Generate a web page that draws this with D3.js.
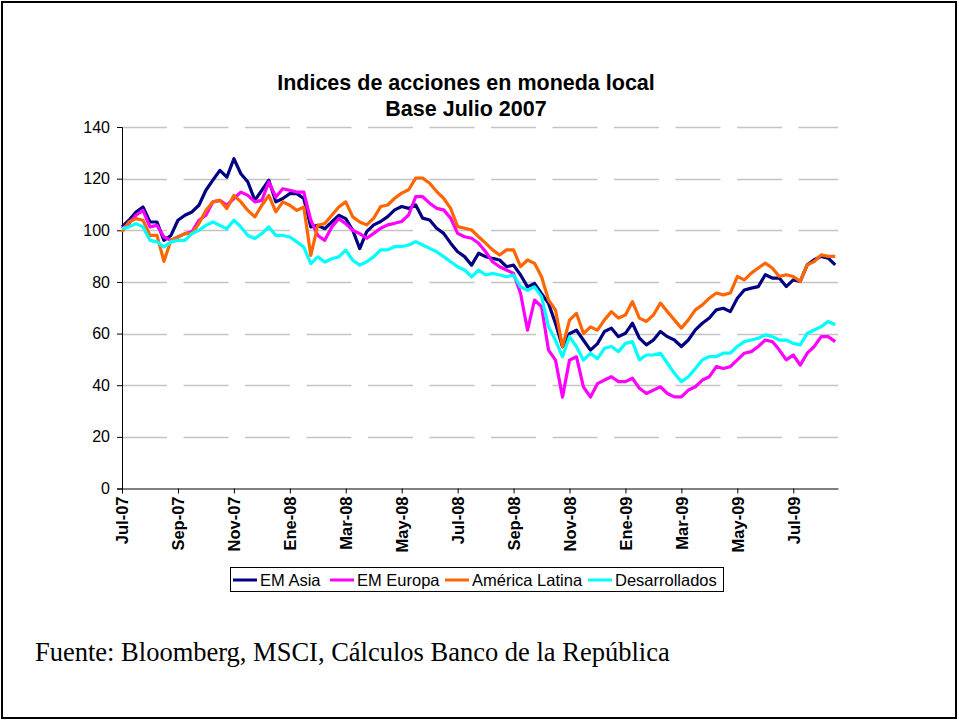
<!DOCTYPE html>
<html>
<head>
<meta charset="utf-8">
<script src="https://cdn.jsdelivr.net/npm/d3@7"></script>
<style>
  body { margin: 0; background: #fff; }
  svg { display: block; }
</style>
</head>
<body>
<svg id="chart"></svg>
<script>
const width = 959;
const height = 721;

// quarter-month samples, Jul-07 .. Aug-09
const tickLabels = ['Jul-07','Sep-07','Nov-07','Ene-08','Mar-08','May-08','Jul-08',
  'Sep-08','Nov-08','Ene-09','Mar-09','May-09','Jul-09'];
const samplesPerTick = 8;

const emAsia = [101.3,103.9,107.1,109.0,103.2,103.2,96.1,98.0,103.9,105.8,107.1,109.7,115.5,119.4,123.2,120.6,127.7,121.9,118.7,111.6,115.5,119.4,111.0,112.3,114.2,114.2,112.3,101.3,101.9,100.6,103.2,105.8,104.5,100.0,92.9,
  99.5,102.1,103.4,105.3,107.9,109.2,108.5,109.8,104.7,104.0,100.8,98.8,95.0,91.7,89.8,86.5,91.1,89.8,89.1,88.5,85.9,86.5,82.7,78.1,79.4,75.5,71.7,63.9,54.9,60.0,61.3,57.4,53.6,56.1,
  60.8,62.1,58.8,60.1,64.0,58.2,55.6,57.5,60.8,58.8,57.5,55.0,57.5,61.4,64.0,66.0,69.2,69.8,68.5,73.7,76.9,77.6,78.2,82.8,81.5,81.5,78.2,80.8,80.2,86.6,88.6,89.9,89.2,86.6];

const emEuropa = [100.6,102.6,105.8,107.7,101.3,101.9,97.4,96.1,97.4,98.7,99.4,103.9,105.8,111.0,111.6,109.7,112.3,114.8,113.5,111.0,111.6,118.7,112.9,116.1,115.5,114.8,114.8,103.9,98.0,96.1,101.3,104.5,102.6,100.0,98.7,
  96.9,98.8,100.8,102.1,102.7,103.4,106.0,113.0,113.0,110.5,108.5,107.9,104.7,98.8,97.5,96.9,95.0,91.7,87.8,85.9,84.6,83.3,75.5,61.3,73.0,70.4,53.6,49.7,35.4,49.7,51.0,39.3,35.4,40.6,
  42.0,43.3,41.4,41.4,42.7,38.8,36.8,38.1,39.4,36.8,35.5,35.5,38.1,39.4,42.0,43.3,47.2,46.5,47.2,49.8,52.4,53.0,55.0,57.5,56.9,53.7,49.8,51.7,47.8,52.4,55.0,58.8,58.8,56.9];

const americaLatina = [99.4,103.2,104.5,103.9,98.0,98.0,88.0,96.1,97.4,98.7,98.7,102.6,107.7,111.0,111.6,108.4,113.5,111.0,107.7,105.2,109.7,113.5,107.1,111.0,109.7,107.7,109.0,90.3,101.9,102.6,105.8,109.0,111.0,105.2,103.2,
  102.1,104.7,109.2,109.8,112.4,114.4,115.7,120.2,120.2,118.2,115.0,112.4,108.5,101.4,100.8,100.1,97.5,95.0,92.4,90.4,92.4,92.4,85.9,88.5,87.2,82.0,73.0,69.1,54.9,65.2,67.8,60.0,62.6,61.3,
  65.3,68.5,66.0,67.2,72.4,66.0,64.7,67.2,71.8,68.5,65.3,62.1,65.3,69.2,71.1,73.7,75.7,75.0,75.7,82.1,80.8,83.4,85.4,87.3,85.4,82.1,82.8,82.1,80.2,86.6,87.9,90.5,89.9,89.9];

const desarrollados = [100.6,101.3,102.6,101.3,96.1,95.5,93.5,95.5,96.1,96.1,98.7,100.0,101.9,103.2,101.9,100.6,103.9,101.3,98.0,96.8,98.7,101.3,98.0,98.0,97.4,95.5,93.5,87.1,89.7,87.7,89.0,89.7,92.3,88.4,86.5,
  87.8,89.8,92.4,92.4,93.7,93.7,94.3,95.6,94.3,93.0,91.7,89.8,87.8,85.9,84.6,82.0,84.6,82.7,83.3,82.7,82.0,82.7,78.1,76.8,78.1,74.3,62.6,57.4,51.0,58.8,54.9,49.7,52.3,50.3,
  54.3,55.0,53.0,56.2,56.9,49.8,51.7,51.7,52.4,48.5,44.6,41.4,43.3,46.5,49.8,51.1,51.1,52.4,52.4,55.0,56.9,57.5,58.2,59.5,58.8,57.5,57.5,56.2,55.6,60.1,61.4,62.7,64.7,63.4];

const seriesNames = ['EM Asia','EM Europa','América Latina','Desarrollados'];
const seriesColors = ['#000080','#ff00ff','#ff6600','#00ffff'];
const seriesValues = [emAsia, emEuropa, americaLatina, desarrollados];
const yTicks = [0,20,40,60,80,100,120,140];

const plot = {left: 122, right: 838, top: 127, bottom: 488.5};

const svg = d3.select('#chart')
  .attr('width', width)
  .attr('height', height)
  .style('font-family', 'Liberation Sans, Arial, sans-serif');

svg.append('rect')
  .attr('x', 2).attr('y', 2)
  .attr('width', width-5).attr('height', height-5)
  .attr('fill', 'white')
  .attr('stroke', 'black')
  .attr('stroke-width', 2);

const sx = d3.scaleLinear()
  .domain([0, 102.4])
  .range([plot.left, plot.right]);

const sy = d3.scaleLinear()
  .domain([0, 140])
  .range([plot.bottom, plot.top]);

// gridlines
svg.append('g')
  .selectAll('line')
  .data(yTicks.filter(d=>d>0))
  .enter()
  .append('line')
  .attr('x1', plot.left)
  .attr('x2', plot.right)
  .attr('y1', d=>Math.round(sy(d))+0.5)
  .attr('y2', d=>Math.round(sy(d))+0.5)
  .attr('stroke', '#c4c4c4')
  .attr('stroke-width', 1.5)
  .attr('stroke-dasharray', '45,16.5');

// title
const title = svg.append('text')
  .attr('text-anchor', 'middle')
  .attr('font-weight', 'bold')
  .attr('font-size', 21.5);
title.append('tspan').attr('x', 466).attr('y', 90).text('Indices de acciones en moneda local');
title.append('tspan').attr('x', 466).attr('y', 116).text('Base Julio 2007');

// axes
const ay = d3.axisLeft(sy)
  .tickValues(yTicks)
  .tickSize(5)
  .tickPadding(7);
const gy = svg.append('g')
  .attr('transform', `translate(${plot.left},0)`)
  .call(ay);
gy.selectAll('text').attr('font-size', 16).attr('fill', '#000')
  .style('font-family', 'Liberation Sans, Arial, sans-serif');
gy.selectAll('line, path').attr('stroke', '#000');

const ax = d3.axisBottom(sx)
  .tickValues(d3.range(tickLabels.length).map(i=>i*samplesPerTick))
  .tickFormat((d,i)=>tickLabels[i])
  .tickSize(5)
  .tickSizeOuter(0);
const gx = svg.append('g')
  .attr('transform', `translate(0,${plot.bottom})`)
  .call(ax);
gx.selectAll('line, path').attr('stroke', '#000');
gx.selectAll('text')
  .attr('font-size', 16.5)
  .attr('font-weight', 'bold')
  .attr('fill', '#000')
  .style('font-family', 'Liberation Sans, Arial, sans-serif')
  .attr('text-anchor', 'end')
  .attr('transform', 'rotate(-90)')
  .attr('x', -8)
  .attr('y', 0)
  .attr('dy', '0.35em');

// series
const line = d3.line()
  .x((d,i)=>sx(i))
  .y(d=>sy(d));

svg.append('g')
  .selectAll('path')
  .data(seriesValues)
  .enter()
  .append('path')
  .attr('d', line)
  .attr('fill', 'none')
  .attr('stroke', (d,i)=>seriesColors[i])
  .attr('stroke-width', 3.2)
  .attr('stroke-linejoin', 'round');

// legend
const legendX = [233, 330, 445, 588];
const legend = svg.append('g');
legend.append('rect')
  .attr('x', 230.5).attr('y', 567.5)
  .attr('width', 493).attr('height', 24)
  .attr('fill', 'white')
  .attr('stroke', '#000')
  .attr('stroke-width', 1);
const item = legend.selectAll('.item')
  .data(seriesNames)
  .enter()
  .append('g')
  .attr('class', 'item')
  .attr('transform', (d,i)=>`translate(${legendX[i]},580)`);
item.append('line')
  .attr('x1', 0).attr('x2', 24)
  .attr('stroke', (d,i)=>seriesColors[i])
  .attr('stroke-width', 3);
item.append('text')
  .attr('x', 27)
  .attr('dy', '0.35em')
  .attr('font-size', 16.5)
  .text(d=>d);

// source note
svg.append('text')
  .attr('x', 35)
  .attr('y', 661)
  .style('font-family', 'Liberation Serif, Times New Roman, serif')
  .attr('font-size', 26.5)
  .text('Fuente: Bloomberg, MSCI, Cálculos Banco de la República');
</script>
</body>
</html>
